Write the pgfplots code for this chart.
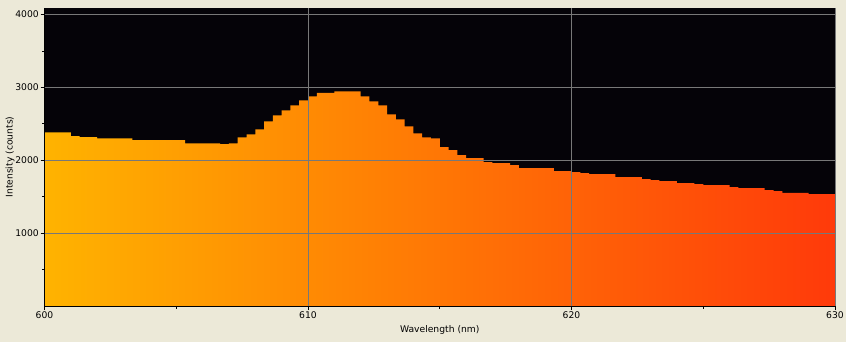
\documentclass[border=0pt]{standalone}
\usepackage{fontspec}
\setmainfont{DejaVu Sans}
\usepackage{pgfplots}
\pgfplotsset{compat=1.18}
\usepackage{pgfplotstable}
\definecolor{bgcol}{RGB}{236,233,216}
\definecolor{plotbg}{RGB}{5,3,8}
\definecolor{gridcol}{RGB}{120,120,120}
\definecolor{specleft}{RGB}{255,179,0}
\definecolor{specright}{RGB}{255,58,10}
\pgfplotstableread{
x y
600.000 2383
600.333 2383
600.667 2383
601.000 2333
601.333 2319
601.667 2319
602.000 2302
602.333 2302
602.667 2302
603.000 2302
603.333 2278
603.667 2278
604.000 2278
604.333 2278
604.667 2278
605.000 2278
605.333 2233
605.667 2233
606.000 2233
606.333 2233
606.667 2220
607.000 2233
607.333 2315
607.667 2356
608.000 2425
608.333 2534
608.667 2616
609.000 2684
609.333 2753
609.667 2821
610.000 2876
610.333 2926
610.667 2926
611.000 2944
611.333 2944
611.667 2944
612.000 2876
612.333 2807
612.667 2753
613.000 2630
613.333 2561
613.667 2466
614.000 2370
614.333 2315
614.667 2302
615.000 2179
615.333 2138
615.667 2070
616.000 2029
616.333 2029
616.667 1974
617.000 1960
617.333 1960
617.667 1933
618.000 1892
618.333 1892
618.667 1892
619.000 1892
619.333 1851
619.667 1851
620.000 1838
620.333 1824
620.667 1810
621.000 1810
621.333 1810
621.667 1769
622.000 1769
622.333 1769
622.667 1742
623.000 1728
623.333 1714
623.667 1714
624.000 1687
624.333 1687
624.667 1673
625.000 1660
625.333 1660
625.667 1660
626.000 1633
626.333 1619
626.667 1619
627.000 1619
627.333 1592
627.667 1578
628.000 1551
628.333 1551
628.667 1551
629.000 1537
629.333 1537
629.667 1537
630.000 1537
}\spectrum
\begin{document}
\fontsize{9.2bp}{11bp}\selectfont
\begin{tikzpicture}
\fill[bgcol] (0,0) rectangle (846bp,342bp);
\useasboundingbox (0,0) rectangle (846bp,342bp);
\begin{axis}[
  scale only axis,
  width=790.5bp, height=298bp,
  at={(44.5bp,36bp)}, anchor=south west,
  xmin=600, xmax=630, ymin=0, ymax=4090,
  axis x line=bottom, axis y line=left,
  axis line style={-, black, line width=1bp},
  axis background/.style={fill=plotbg},
  axis on top,
  xtick={600,610,620,630},
  minor xtick={605,615,625},
  ytick={1000,2000,3000,4000},
  minor ytick={500,1500,2500,3500},
  tick align=outside,
  major tick length=4bp,
  minor tick length=2.5bp,
  tick style={black, line width=0.8bp},
  grid=major,
  major grid style={gridcol, line width=0.9bp},
  /pgf/number format/assume math mode=true,
  /pgf/number format/1000 sep={},
  xticklabel style={inner sep=1.5bp},
  yticklabel style={inner sep=1.5bp},
  xlabel={Wavelength (nm)},
  ylabel={Intensity (counts)},
  xlabel style={at={(axis description cs:0.5,-0.064)}, anchor=north, inner sep=0pt},
  ylabel style={at={(axis description cs:-0.0436,0.5)}, anchor=center, rotate=0, inner sep=0pt},
]
\addplot[draw=none, const plot, left color=specleft, right color=specright] table[x=x,y=y] {\spectrum} \closedcycle;
\end{axis}
\end{tikzpicture}
\end{document}
